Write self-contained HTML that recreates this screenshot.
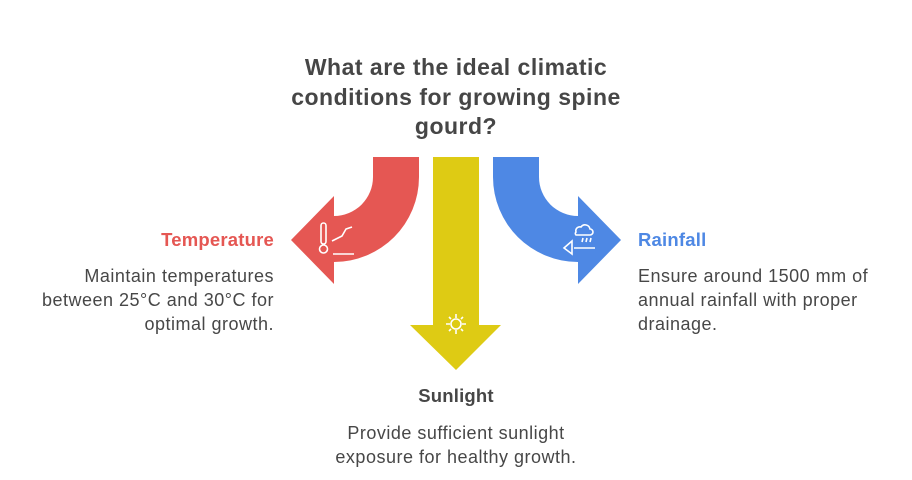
<!DOCTYPE html>
<html><head><style>
body{margin:0;width:912px;height:480px;background:#fff;position:relative;font-family:"Liberation Sans",Arial,sans-serif;overflow:hidden}
.t{position:absolute;white-space:nowrap}
.title{left:206px;width:500px;text-align:center;top:53px;font-size:23px;letter-spacing:0.5px;font-weight:bold;color:#464646;line-height:29.5px}
.h{font-size:18.5px;font-weight:bold;letter-spacing:0.2px}
.b{font-size:18px;letter-spacing:0.5px;color:#474747;line-height:24px}
</style></head><body>
<svg width="912" height="480" style="position:absolute;left:0;top:0">
<path d="M373 157 L419 157 L419 177 A85 85 0 0 1 334 262 L334 284 L291 240 L334 196 L334 216 A39 39 0 0 0 373 177 Z" fill="#E55753"/>
<path d="M433 157 L479 157 L479 325 L501 325 L456 370 L410 325 L433 325 Z" fill="#DECB14"/>
<path d="M539 157 L493 157 L493 177 A85 85 0 0 0 578 262 L578 284 L621 240 L578 196 L578 216 A39 39 0 0 1 539 177 Z" fill="#4E88E4"/>
<g stroke="#fff" stroke-width="1.6" fill="none">
<rect x="321" y="223" width="5" height="21" rx="2.5"/><circle cx="323.5" cy="249" r="4"/>
<path d="M332 241 L342 236 L346 229 L352 227 M333 254 L354 254"/>
<circle cx="456" cy="324" r="5"/>
<path d="M456 314v4M456 330v4M446 324h4M462 324h4M449 317l2 2M461 329l2 2M449 331l2-2M461 319l2-2"/>
<path d="M576 232 a4 4 0 0 1 5-5 a5 5 0 0 1 9 2 a3 3 0 0 1 0 6 h-14 a2 2 0 0 1 0-3z"/>
<path d="M583 238l-1 4M587 238l-1 4M591 238l-1 4M572 241 L564 248 L572 254 Z M574 248 h21" />
</g>
</svg>
<div class="t title">What are the ideal climatic<br>conditions for growing spine<br>gourd?</div>
<div class="t h" style="right:638px;top:229px;color:#E55753">Temperature</div>
<div class="t b" style="right:638px;top:264px;text-align:right">Maintain temperatures<br>between 25°C and 30°C for<br>optimal growth.</div>
<div class="t h" style="left:638px;top:229px;color:#4E88E4">Rainfall</div>
<div class="t b" style="left:638px;top:264px">Ensure around 1500 mm of<br>annual rainfall with proper<br>drainage.</div>
<div class="t h" style="left:356px;width:200px;text-align:center;top:385px;color:#464646">Sunlight</div>
<div class="t b" style="left:256px;width:400px;text-align:center;top:421px">Provide sufficient sunlight<br>exposure for healthy growth.</div>
</body></html>
